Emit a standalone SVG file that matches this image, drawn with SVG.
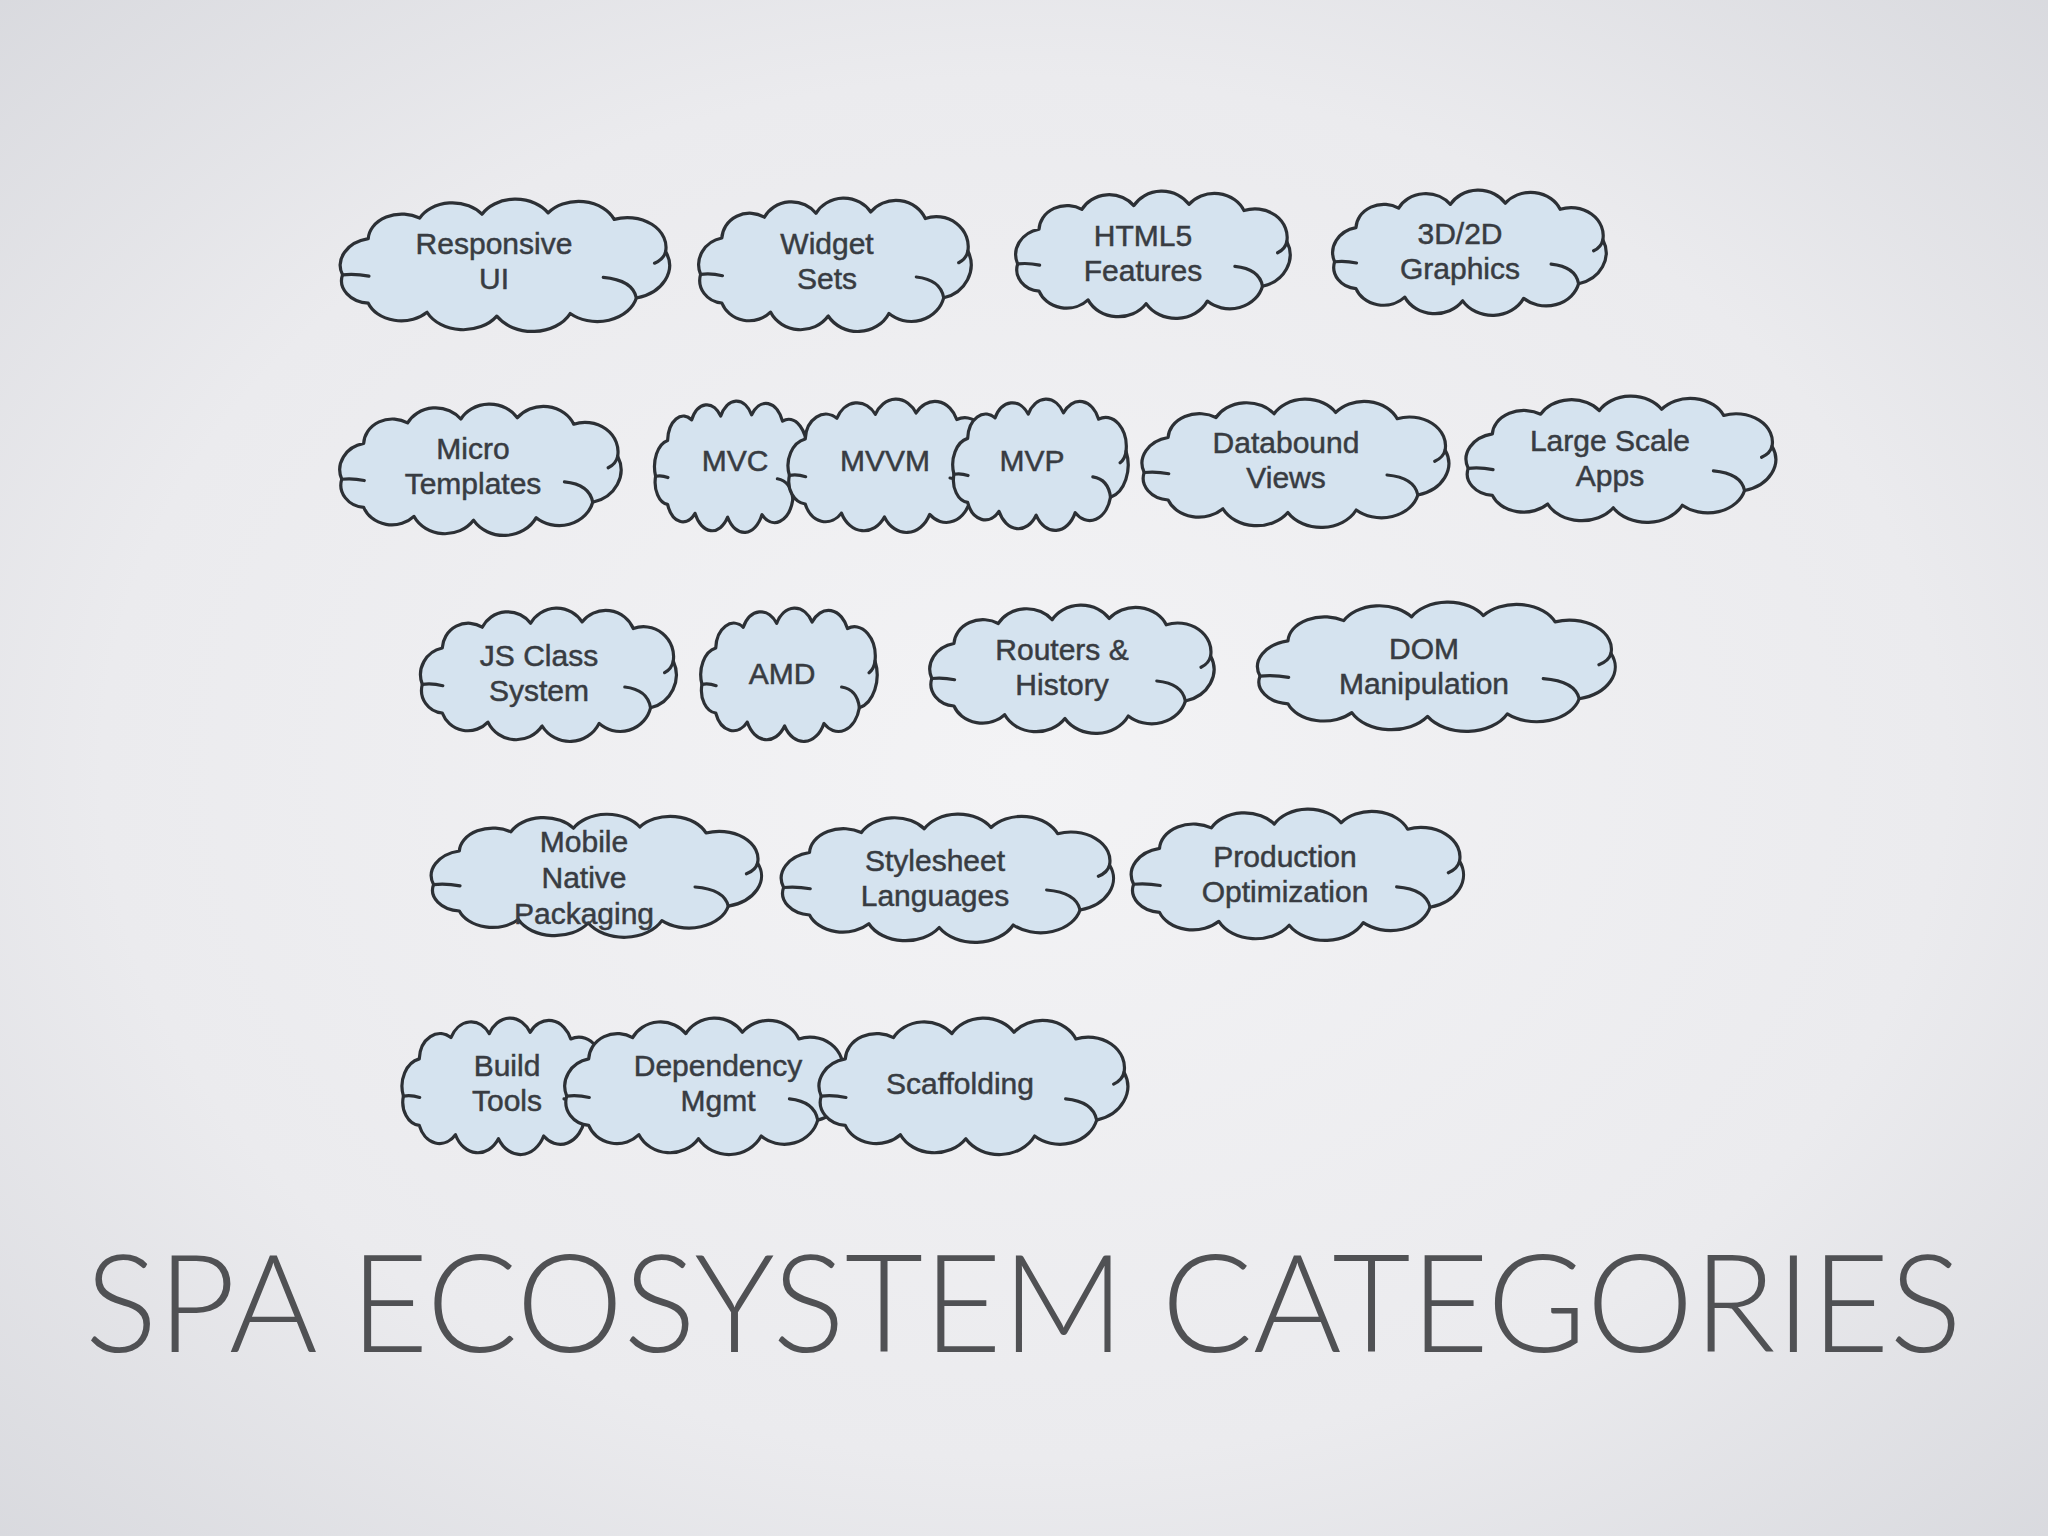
<svg xmlns="http://www.w3.org/2000/svg" xmlns:xlink="http://www.w3.org/1999/xlink" width="2048" height="1536" viewBox="0 0 2048 1536">
<defs>
<radialGradient id="bg" cx="50%" cy="50%" r="75%">
<stop offset="0" stop-color="#f3f3f5"/>
<stop offset="0.6" stop-color="#ebebee"/>
<stop offset="1" stop-color="#d6d7dc"/>
</radialGradient>
<g id="cloud">
<path class="cl" d="M3.3,58 A21,21 0 0 1 18.6,30 A20,20 0 0 1 49.2,14 A22,22 0 0 1 86.3,11 A23,23 0 0 1 125.7,10 A23,23 0 0 1 165,15 A23,23 0 0 1 195.6,40 A26,26 0 0 1 178.2,76 A24,24 0 0 1 138.8,88 A25,25 0 0 1 95.1,90 A24,24 0 0 1 53.6,87 A21,21 0 0 1 18.6,80 A17.5,17.5 0 0 1 3.3,58 Z"/>
<path class="ln" d="M3.3,58 Q11,57 19,59 M195.6,40 Q194.5,46 189,49 M158.5,60 Q176,62 178.2,76"/>
</g>
<style>
.cl{fill:#d5e3ef;stroke:#2c3035;stroke-width:3.2;vector-effect:non-scaling-stroke;stroke-linejoin:round}
.ln{fill:none;stroke:#2c3035;stroke-width:3.2;vector-effect:non-scaling-stroke;stroke-linecap:round}
.lbl{font-family:"Liberation Sans",Arial,sans-serif;font-size:30px;fill:#383c42;stroke:#383c42;stroke-width:0.5;text-anchor:middle}
.title{font-family:Lato,"Open Sans","Liberation Sans",sans-serif;font-weight:300;font-size:136px;fill:#505154}
</style>
</defs>
<rect width="2048" height="1536" fill="url(#bg)"/>
<g id="connectors"/>
<g id="n-responsive-ui"><use href="#cloud" transform="translate(337,200) scale(1.68,1.29)"/><text class="lbl" x="494" y="254">Responsive<tspan x="494" dy="35">UI</tspan></text></g>
<g id="n-widget-sets"><use href="#cloud" transform="translate(696,199) scale(1.39,1.30)"/><text class="lbl" x="827" y="254">Widget<tspan x="827" dy="35">Sets</tspan></text></g>
<g id="n-html5"><use href="#cloud" transform="translate(1013,192) scale(1.40,1.24)"/><text class="lbl" x="1143" y="246">HTML5<tspan x="1143" dy="35">Features</tspan></text></g>
<g id="n-graphics"><use href="#cloud" transform="translate(1330,191) scale(1.395,1.22)"/><text class="lbl" x="1460" y="244">3D/2D<tspan x="1460" dy="35">Graphics</tspan></text></g>
<g id="n-micro-templates"><use href="#cloud" transform="translate(337,405) scale(1.435,1.28)"/><text class="lbl" x="473" y="459">Micro<tspan x="473" dy="35">Templates</tspan></text></g>
<g id="n-mvc"><use href="#cloud" transform="translate(653,402) scale(0.785,1.28)"/><text class="lbl" x="735" y="471">MVC</text></g>
<g id="n-mvvm"><use href="#cloud" transform="translate(786,400) scale(1.035,1.30)"/><text class="lbl" x="885" y="471">MVVM</text></g>
<g id="n-mvp"><use href="#cloud" transform="translate(951,400) scale(0.895,1.28)"/><text class="lbl" x="1032" y="471">MVP</text></g>
<g id="n-databound-views"><use href="#cloud" transform="translate(1139,400) scale(1.565,1.25)"/><text class="lbl" x="1286" y="453">Databound<tspan x="1286" dy="35">Views</tspan></text></g>
<g id="n-large-scale-apps"><use href="#cloud" transform="translate(1463,397) scale(1.58,1.23)"/><text class="lbl" x="1610" y="451">Large Scale<tspan x="1610" dy="35">Apps</tspan></text></g>
<g id="n-js-class-system"><use href="#cloud" transform="translate(418,609) scale(1.305,1.30)"/><text class="lbl" x="539" y="666">JS Class<tspan x="539" dy="35">System</tspan></text></g>
<g id="n-amd"><use href="#cloud" transform="translate(699,609) scale(0.90,1.30)"/><text class="lbl" x="782" y="684">AMD</text></g>
<g id="n-routers-history"><use href="#cloud" transform="translate(927,606) scale(1.45,1.25)"/><text class="lbl" x="1062" y="660">Routers &amp;<tspan x="1062" dy="35">History</tspan></text></g>
<g id="n-dom-manipulation"><use href="#cloud" transform="translate(1254,603) scale(1.825,1.26)"/><text class="lbl" x="1424" y="659">DOM<tspan x="1424" dy="35">Manipulation</tspan></text></g>
<g id="n-mobile-native-packaging"><use href="#cloud" transform="translate(428,815) scale(1.685,1.20)"/><text class="lbl" x="584" y="852">Mobile<tspan x="584" dy="36">Native</tspan><tspan x="584" dy="36">Packaging</tspan></text></g>
<g id="n-stylesheet-languages"><use href="#cloud" transform="translate(778,815) scale(1.695,1.25)"/><text class="lbl" x="935" y="871">Stylesheet<tspan x="935" dy="35">Languages</tspan></text></g>
<g id="n-production-optimization"><use href="#cloud" transform="translate(1128,810) scale(1.695,1.28)"/><text class="lbl" x="1285" y="867">Production<tspan x="1285" dy="35">Optimization</tspan></text></g>
<g id="n-build-tools"><use href="#cloud" transform="translate(400,1019) scale(1.035,1.33)"/><text class="lbl" x="507" y="1076">Build<tspan x="507" dy="35">Tools</tspan></text></g>
<g id="n-dependency-mgmt"><use href="#cloud" transform="translate(562,1019) scale(1.435,1.33)"/><text class="lbl" x="718" y="1076">Dependency<tspan x="718" dy="35">Mgmt</tspan></text></g>
<g id="n-scaffolding"><use href="#cloud" transform="translate(816,1019) scale(1.575,1.33)"/><text class="lbl" x="960" y="1094">Scaffolding</text></g>
<text class="title" x="85" y="1352" textLength="1877" lengthAdjust="spacingAndGlyphs">SPA ECOSYSTEM CATEGORIES</text>
</svg>
